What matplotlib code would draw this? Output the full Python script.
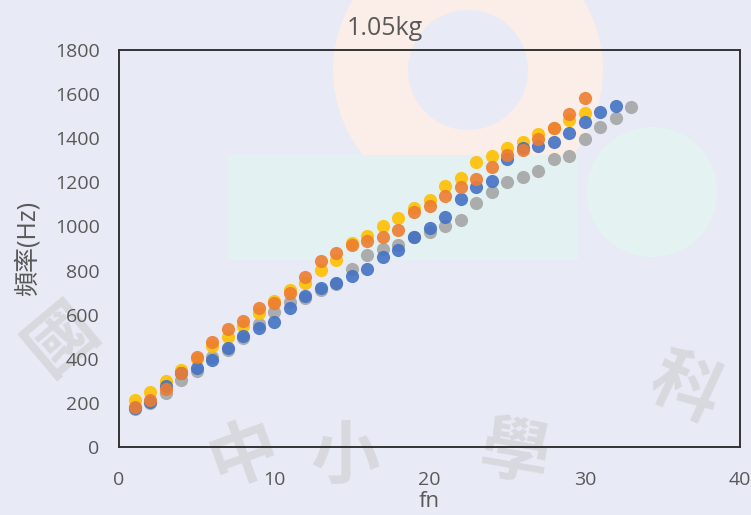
import matplotlib.pyplot as plt
from matplotlib.patches import Wedge, Rectangle, Circle

# 資料
n_yellow = list(range(1, 31))
f_yellow = [212, 249, 299, 349, 400, 458, 499, 548, 607, 660,
            712, 744, 802, 848, 925, 956, 1002, 1038, 1085, 1118,
            1183, 1219, 1292, 1319, 1355, 1383, 1419, 1446, 1482, 1514]

n_orange = list(range(1, 31))
f_orange = [181, 213, 263, 336, 408, 476, 535, 571, 628, 655,
            700, 771, 843, 879, 916, 934, 952, 984, 1065, 1092,
            1140, 1179, 1215, 1269, 1324, 1346, 1396, 1446, 1510, 1582]

n_blue = list(range(1, 33))
f_blue = [177, 204, 276, 335, 358, 394, 449, 503, 539, 567,
          630, 685, 721, 744, 775, 807, 861, 893, 952, 995,
          1043, 1124, 1179, 1206, 1306, 1355, 1365, 1383, 1424, 1473,
          1519, 1546]

n_gray = list(range(1, 34))
f_gray = [172, 200, 245, 304, 345, 408, 440, 495, 558, 612,
          657, 676, 712, 740, 807, 870, 898, 916, 950, 975,
          1002, 1029, 1106, 1156, 1201, 1224, 1251, 1306, 1319, 1396,
          1451, 1491, 1541]

title = '1.05kg'
xlabel = 'fn'
ylabel = '頻率(Hz)'
x_ticks = [0, 10, 20, 30, 40]
y_ticks = list(range(0, 1801, 200))

plt.rcParams['font.family'] = ['Open Sans', 'Noto Sans CJK TC', 'DejaVu Sans']
txt = '#595959'
bg = '#E8EBF5'

fig = plt.figure(figsize=(7.51, 5.15), dpi=100, facecolor=bg)

# 浮水印 (淡色背景圖案)
wm = fig.add_axes([0, 0, 1, 1], zorder=-5)
wm.set_xlim(0, 751)
wm.set_ylim(515, 0)
wm.axis('off')
wm.add_patch(Wedge((468, 70), 135, 0, 360, width=75, color='#FBEDE8', lw=0))
wm.add_patch(Rectangle((228, 155), 350, 105, color='#E3F1F2', lw=0))
wm.add_patch(Circle((652, 192), 65, color='#E4F3F1', lw=0))
for ch, x, y, rot in [('國', 62, 340, 40), ('中', 245, 455, 20), ('小', 345, 458, 0),
                      ('學', 515, 455, -10), ('科', 685, 390, -25)]:
    wm.text(x, y, ch, fontsize=50, color='#D8D9DF', ha='center', va='center',
            rotation=rot, family='Noto Sans CJK TC', fontweight='bold')

ax = fig.add_axes([0.1585, 0.132, 0.8269, 0.771])
ax.set_facecolor('none')

ms = 90
ax.scatter(n_gray, f_gray, s=ms, color='#A5A5A5', alpha=0.9, lw=0, zorder=3)
ax.scatter(n_yellow, f_yellow, s=ms, color='#FFC000', alpha=0.9, lw=0, zorder=4)
ax.scatter(n_blue, f_blue, s=ms, color='#4472C4', alpha=0.9, lw=0, zorder=5)
ax.scatter(n_orange, f_orange, s=ms, color='#ED7D31', alpha=0.9, lw=0, zorder=6)

ax.set_xlim(0, 40)
ax.set_ylim(0, 1800)
ax.set_xticks(x_ticks)
ax.set_yticks(y_ticks)
ax.tick_params(length=0, labelsize=14, labelcolor=txt)
ax.tick_params(axis='x', pad=17)
ax.tick_params(axis='y', pad=14)
for s in ax.spines.values():
    s.set_color('#333333')
    s.set_linewidth(1.4)

ax.set_xlabel(xlabel, fontsize=16, color=txt)
ax.xaxis.set_label_coords(0.5, -0.11)
ax.set_ylabel(ylabel, fontsize=18, color=txt, labelpad=10)
fig.text(0.513, 0.945, title, fontsize=18, color=txt, ha='center', va='center')

fig.savefig('out.png', dpi=100, facecolor=bg)
